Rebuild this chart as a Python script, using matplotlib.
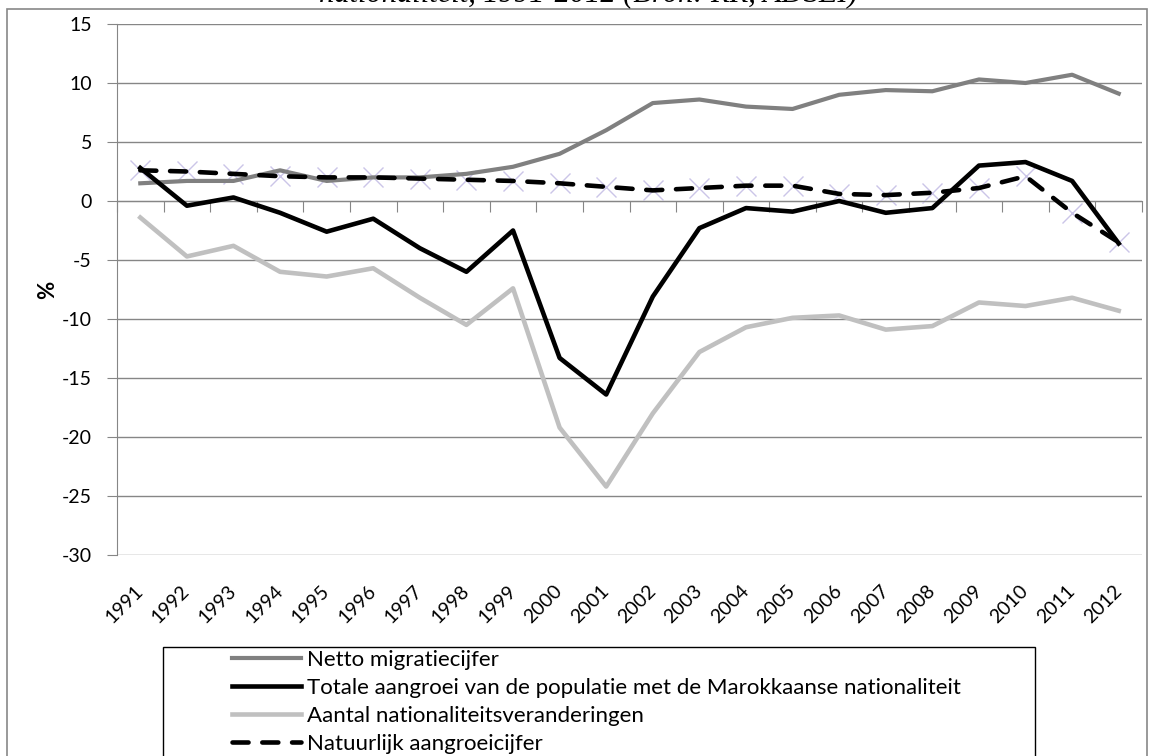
import matplotlib.pyplot as plt
from matplotlib.patches import Rectangle

years = [str(y) for y in range(1991, 2013)]
netto = [1.5, 1.7, 1.7, 2.6, 1.7, 2.0, 2.0, 2.3, 2.9, 4.0, 6.0,
         8.3, 8.6, 8.0, 7.8, 9.0, 9.4, 9.3, 10.3, 10.0, 10.7, 9.1]
totale = [2.8, -0.4, 0.3, -1.0, -2.6, -1.5, -4.0, -6.0, -2.5, -13.3, -16.4,
          -8.1, -2.3, -0.6, -0.9, 0.0, -1.0, -0.6, 3.0, 3.3, 1.7, -3.6]
aantal = [-1.4, -4.7, -3.8, -6.0, -6.4, -5.7, -8.2, -10.5, -7.4, -19.2, -24.2,
          -18.0, -12.8, -10.7, -9.9, -9.7, -10.9, -10.6, -8.6, -8.9, -8.2, -9.3]
natuurlijk = [2.6, 2.5, 2.3, 2.1, 2.0, 2.0, 1.9, 1.8, 1.7, 1.5, 1.2,
              0.9, 1.1, 1.3, 1.3, 0.6, 0.5, 0.7, 1.1, 2.1, -1.0, -3.5]
labels = ['Netto migratiecijfer',
          'Totale aangroei van de populatie met de Marokkaanse nationaliteit',
          'Aantal nationaliteitsveranderingen',
          'Natuurlijk aangroeicijfer']

plt.rcParams['font.family'] = ['Lato', 'DejaVu Sans']
plt.rcParams['axes.unicode_minus'] = False
W, H = 1152, 756
fig = plt.figure(figsize=(W / 100, H / 100), dpi=100)
ax = fig.add_axes([117 / W, 1 - 555 / H, (1142 - 117) / W, (555 - 24) / H])

x = list(range(len(years)))
grid_c = '#868686'

ax.plot(x, natuurlijk, ls='none', marker='x', ms=14, mew=1, color='#cbc5e8', zorder=2)
ax.plot(x, netto, color='#808080', lw=3, label=labels[0], zorder=3)
ax.plot(x, totale, color='black', lw=3.3, label=labels[1], zorder=4)
ax.plot(x, aantal, color='#c0c0c0', lw=3.3, label=labels[2], zorder=5)
ax.plot(x, natuurlijk, color='black', lw=3.3, ls=(0, (3.5, 3)), dash_capstyle='round',
        label=labels[3], zorder=6)

ax.set_xlim(-0.5, len(years) - 0.5)
ax.set_ylim(-30, 15)
ax.set_yticks(range(-30, 16, 5))
ax.yaxis.grid(True, color=grid_c, lw=1)
ax.set_axisbelow(True)
ax.tick_params(axis='y', length=7, color=grid_c, pad=11, labelsize=14)

for s in ['top', 'right']:
    ax.spines[s].set_visible(False)
ax.spines['left'].set_color(grid_c)
ax.spines['bottom'].set_color(grid_c)
ax.spines['bottom'].set_position(('data', 0))
ax.set_xticks([i - 0.5 for i in range(len(years) + 1)])
ax.tick_params(axis='x', length=8, color=grid_c, labelbottom=False)

sec = ax.secondary_xaxis('bottom')
sec.set_xticks(x, labels=years, rotation=45, ha='right', va='center',
               rotation_mode='anchor', fontsize=14)
sec.tick_params(length=0, pad=24)
sec.spines['bottom'].set_visible(False)

ax.set_ylabel('%', fontsize=16, fontweight='bold', labelpad=3)

# title is mostly cut off at the top edge in the reference
fig.text(588 / W, 1 - 1.5 / H, 'nationaliteit, 1991-2012 (Bron: RR, ADSEI)',
         ha='center', va='baseline', fontsize=22, style='italic',
         family='Liberation Serif')

# outer chart border and legend box
fig.patches.append(Rectangle((7 / W, -0.1), (1147 - 7) / W, 1.1 - 9 / H,
                             transform=fig.transFigure, fill=False,
                             edgecolor='#878787', lw=1.2))
fig.patches.append(Rectangle((163 / W, -0.1), (1035 - 163) / W, 0.1 + 1 - 647 / H,
                             transform=fig.transFigure, fill=False,
                             edgecolor='black', lw=1))

fig.legend(loc='upper left', bbox_to_anchor=(232 / W, 1 - 650 / H),
           frameon=False, fontsize=16, handlelength=3.1, handletextpad=0.27,
           labelspacing=0.36, borderpad=0, borderaxespad=0)

fig.savefig('out.png', dpi=100)
